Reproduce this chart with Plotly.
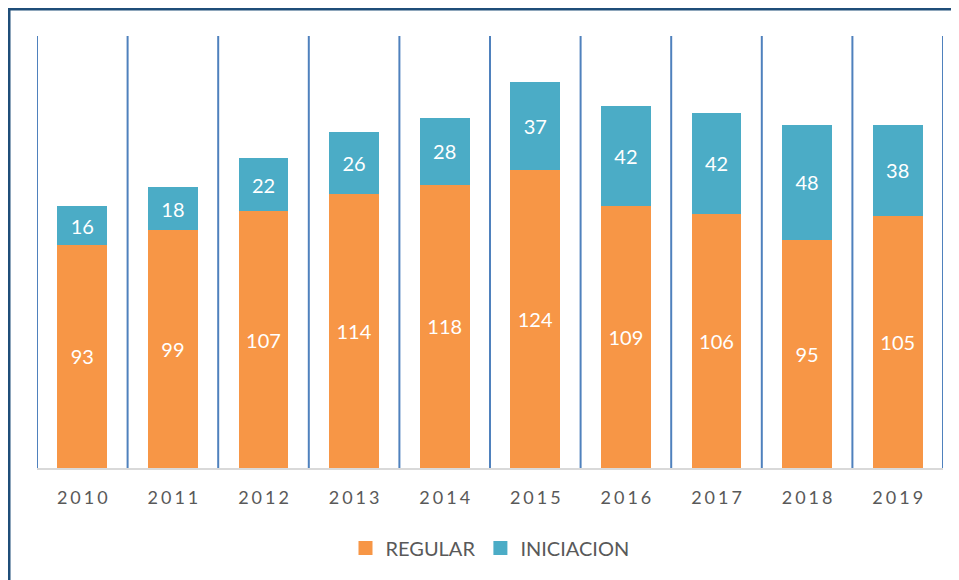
import plotly.graph_objects as go

years = ["2010", "2011", "2012", "2013", "2014", "2015", "2016", "2017", "2018", "2019"]
regular = [93, 99, 107, 114, 118, 124, 109, 106, 95, 105]
iniciacion = [16, 18, 22, 26, 28, 37, 42, 42, 48, 38]
series_names = ["REGULAR", "INICIACION"]
series_colors = ["#F79646", "#4BACC6"]

SP = "\u2006"
tick_text = [SP.join(list(y)) for y in years]

fig = go.Figure()
for name, vals, col in zip(series_names, [regular, iniciacion], series_colors):
    fig.add_trace(go.Bar(
        x=years, y=vals, name=name, showlegend=False, legendgroup=name,
        marker=dict(color=col, line=dict(width=0)),
        text=vals, textposition="inside", insidetextanchor="middle",
        textfont=dict(color="white", size=20, family="Lato"),
    ))
# legend entries with larger square swatches
for name, col in zip(series_names, series_colors):
    fig.add_trace(go.Scatter(
        x=[None], y=[None], mode="markers", name=name, legendgroup=name,
        marker=dict(symbol="square", size=14, color=col),
        showlegend=True,
    ))

shapes = []
for i in range(len(years) + 1):
    shapes.append(dict(type="line", xref="x", yref="paper",
                       x0=i - 0.5, x1=i - 0.5, y0=0, y1=1,
                       line=dict(color="#4F81BD", width=2), layer="below"))
shapes.append(dict(type="rect", xref="paper", yref="paper",
                   x0=-0.0309, x1=1.2, y0=-0.5, y1=1.0625,
                   line=dict(color="#1F4E79", width=3), fillcolor="rgba(0,0,0,0)"))

fig.update_layout(
    width=959, height=580,
    margin=dict(l=29, r=24, t=28, b=120),
    barmode="stack", bargap=0.45,
    plot_bgcolor="white", paper_bgcolor="white",
    font=dict(family="Lato", color="#595959"),
    showlegend=True,
    legend=dict(orientation="h", x=0.5, xanchor="center", y=-0.185, yanchor="middle",
                font=dict(size=20, color="#595959"), itemwidth=30, traceorder="normal"),
    shapes=shapes,
)
fig.update_xaxes(
    tickmode="array", tickvals=years, ticktext=tick_text,
    tickfont=dict(size=18, color="#595959"),
    showline=True, linecolor="#D9D9D9", linewidth=1.5,
    showgrid=False, ticks="", ticklabelstandoff=13,
    range=[-0.5, len(years) - 0.5],
)
fig.update_yaxes(range=[0, 180], visible=False, showgrid=False)

fig.write_html("out.html")
